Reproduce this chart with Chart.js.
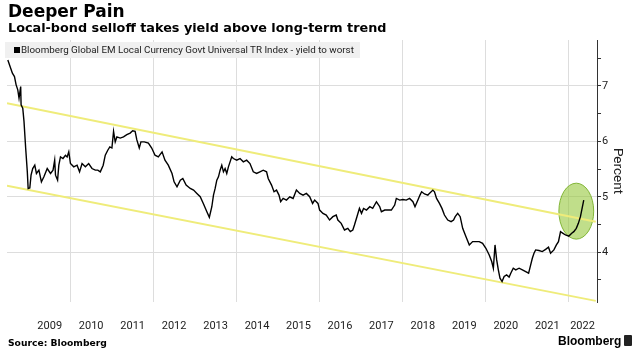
<!DOCTYPE html>
<html><head><meta charset="utf-8">
<script src="https://cdn.jsdelivr.net/npm/chart.js@4.4.1/dist/chart.umd.min.js"></script>
<style>
html,body{margin:0;padding:0;background:#fff;width:642px;height:357px;overflow:hidden;}
#wrap{position:relative;width:642px;height:357px;}
canvas{position:absolute;left:0;top:0;}
.t{position:absolute;white-space:nowrap;color:#000;}
#title{left:8px;top:1px;font:bold 17px/20px "DejaVu Sans";}
#sub{left:8px;top:20px;font:bold 12.8px/16px "DejaVu Sans";}
#legend{position:absolute;left:5px;top:42px;width:355px;height:16px;background:#f0f0f0;}
#legend .sq{position:absolute;left:9px;top:5px;width:6px;height:6px;background:#000;}
#legend .lt{position:absolute;left:16px;top:0;font:9.8px/16px Roboto;color:#222;white-space:nowrap;}
#source{left:8px;top:337px;font:bold 9.2px/12px "DejaVu Sans";}
#logo{left:558px;top:333px;font:bold 12px/16px "Liberation Sans";}
#icon{position:absolute;left:624px;top:335px;width:8px;height:11px;background:#222;border-radius:1px;}
</style></head>
<body>
<div id="wrap">
<canvas id="c" width="642" height="357"></canvas>
<div class="t" id="title">Deeper Pain</div>
<div class="t" id="sub">Local-bond selloff takes yield above long-term trend</div>
<div id="legend"><div class="sq"></div><div class="lt">Bloomberg Global EM Local Currency Govt Universal TR Index - yield to worst</div></div>
<div class="t" id="source">Source: Bloomberg</div>
<div class="t" id="logo">Bloomberg</div>
<div id="icon"></div>
</div>
<script>
const yieldDates = [
2008.49,2008.60,2008.65,2008.69,2008.73,2008.76,2008.80,2008.81,2008.85,2008.88,2008.92,2008.96,2008.98,
2009.02,2009.05,2009.09,2009.14,2009.18,2009.24,2009.30,2009.36,2009.44,2009.52,2009.58,2009.62,2009.64,2009.69,2009.72,2009.76,2009.82,2009.88,2009.92,2009.96,
2010.00,2010.08,2010.16,2010.22,2010.28,2010.36,2010.44,2010.52,2010.60,2010.66,2010.72,2010.79,2010.84,2010.90,2010.95,
2011.00,2011.04,2011.08,2011.12,2011.20,2011.28,2011.36,2011.44,2011.50,2011.56,2011.60,2011.66,2011.70,2011.78,2011.88,2011.96,
2012.04,2012.12,2012.21,2012.28,2012.36,2012.45,2012.50,2012.57,2012.65,2012.71,2012.79,2012.89,2012.97,
2013.05,2013.13,2013.21,2013.29,2013.35,2013.41,2013.45,2013.49,2013.53,2013.57,2013.61,2013.65,2013.69,2013.73,2013.77,2013.81,2013.85,2013.89,2013.93,
2014.01,2014.09,2014.17,2014.25,2014.33,2014.41,2014.49,2014.57,2014.65,2014.73,2014.77,2014.85,2014.91,2014.97,
2015.03,2015.07,2015.13,2015.21,2015.29,2015.37,2015.45,2015.53,2015.61,2015.69,2015.77,2015.84,2015.89,2015.97,
2016.01,2016.09,2016.17,2016.25,2016.33,2016.41,2016.45,2016.53,2016.61,2016.69,2016.75,2016.81,2016.85,2016.91,2016.97,
2017.02,2017.07,2017.14,2017.22,2017.29,2017.38,2017.46,2017.50,2017.58,2017.66,2017.74,2017.82,2017.86,2017.94,
2018.02,2018.10,2018.18,2018.26,2018.31,2018.38,2018.43,2018.47,2018.54,2018.62,2018.67,2018.74,2018.78,2018.83,2018.90,2018.96,
2019.02,2019.10,2019.18,2019.24,2019.28,2019.34,2019.40,2019.46,2019.54,2019.62,2019.70,2019.78,2019.86,2019.94,
2020.02,2020.10,2020.16,2020.20,2020.24,2020.28,2020.32,2020.36,2020.41,2020.46,2020.52,2020.58,2020.62,2020.68,2020.74,2020.82,2020.90,2020.98,
2021.05,2021.10,2021.14,2021.18,2021.22,2021.30,2021.38,2021.46,2021.53,2021.58,2021.66,2021.72,2021.77,2021.82,2021.88,2021.94,
2022.02,2022.09,2022.14,2022.20,2022.25,2022.30,2022.34,2022.38
];
const yieldValues = [
7.47,7.23,7.17,7.02,6.93,6.78,6.99,6.66,6.60,6.36,5.88,5.45,5.15,
5.16,5.39,5.51,5.57,5.42,5.48,5.27,5.36,5.51,5.42,5.48,5.66,5.39,5.30,5.57,5.72,5.69,5.75,5.72,5.81,
5.60,5.54,5.57,5.45,5.60,5.54,5.60,5.51,5.48,5.48,5.45,5.57,5.75,5.84,5.90,
5.88,6.18,5.99,6.08,6.06,6.08,6.12,6.15,6.19,6.18,6.03,5.88,5.99,5.99,5.97,5.88,
5.75,5.72,5.81,5.66,5.57,5.42,5.27,5.18,5.30,5.33,5.21,5.15,5.12,
5.06,5.00,4.87,4.73,4.63,4.82,5.03,5.15,5.30,5.36,5.48,5.57,5.45,5.51,5.42,5.54,5.63,5.72,5.69,
5.66,5.69,5.63,5.66,5.60,5.45,5.42,5.45,5.48,5.45,5.33,5.21,5.09,5.12,
5.03,4.91,4.97,4.94,5.00,4.97,5.12,5.06,5.03,5.06,5.00,4.88,4.94,4.88,
4.76,4.70,4.67,4.58,4.64,4.67,4.58,4.52,4.40,4.43,4.37,4.40,4.49,4.64,4.79,
4.70,4.79,4.76,4.82,4.79,4.91,4.82,4.73,4.76,4.76,4.76,4.85,4.97,4.94,
4.95,4.94,4.97,4.91,4.82,4.94,5.03,5.09,5.05,5.03,5.07,5.12,5.09,4.97,4.88,4.79,
4.67,4.58,4.55,4.58,4.64,4.70,4.64,4.43,4.28,4.13,4.19,4.19,4.19,4.16,
4.07,3.95,3.83,3.71,4.13,3.86,3.68,3.53,3.47,3.56,3.59,3.55,3.62,3.71,3.68,3.71,3.68,3.65,
3.62,3.77,3.89,3.98,4.04,4.03,4.01,4.05,4.09,3.98,4.04,4.13,4.19,4.37,4.34,4.31,
4.29,4.34,4.37,4.43,4.52,4.64,4.79,4.94
];
const upperTrendDates = [2008.47, 2022.67];
const upperTrendValues = [6.69, 4.55];
const lowerTrendDates = [2008.47, 2022.67];
const lowerTrendValues = [5.20, 3.12];
const yearTickLabels = ['2009','2010','2011','2012','2013','2014','2015','2016','2017','2018','2019','2020','2021','2022'];
const yearTickPositions = [2009.5,2010.5,2011.5,2012.5,2013.5,2014.5,2015.5,2016.5,2017.5,2018.5,2019.5,2020.5,2021.5,2022.35];
const yearGridPositions = [2010,2012,2014,2016,2018,2020,2022];
const yTickValues = [3.5,4,4.5,5,5.5,6,6.5,7,7.5];
const yTickLabelled = [4,5,6,7];
const xMin = 2008.47, xMax = 2022.70, yMin = 3.10, yMax = 7.83;
const highlight = {year: 2022.20, value: 4.74, yearRadius: 0.42, valueRadius: 0.505};

const toPoints = (xs, ys) => xs.map((x, i) => ({x: x, y: ys[i]}));

const decorPlugin = {
  id: 'decor',
  beforeDatasetsDraw(chart) {
    const {ctx, chartArea} = chart;
    const x = chart.scales.x, y = chart.scales.y;
    ctx.save();
    ctx.strokeStyle = '#dddddd';
    ctx.lineWidth = 1;
    yearGridPositions.forEach(v => {
      const px = Math.round(x.getPixelForValue(v)) + 0.5;
      ctx.beginPath();
      ctx.moveTo(px, chartArea.top);
      ctx.lineTo(px, chartArea.bottom);
      ctx.stroke();
    });
    const cx = x.getPixelForValue(highlight.year);
    const cy = y.getPixelForValue(highlight.value);
    const rx = Math.abs(x.getPixelForValue(highlight.year + highlight.yearRadius) - cx);
    const ry = Math.abs(y.getPixelForValue(highlight.value + highlight.valueRadius) - cy);
    ctx.beginPath();
    ctx.ellipse(cx, cy, rx, ry, 0, 0, Math.PI * 2);
    ctx.fillStyle = 'rgba(150,200,60,0.6)';
    ctx.fill();
    ctx.strokeStyle = 'rgba(120,175,40,0.9)';
    ctx.lineWidth = 1;
    ctx.stroke();
    ctx.restore();
  }
};

new Chart(document.getElementById('c'), {
  type: 'line',
  data: {
    datasets: [
      {data: toPoints(upperTrendDates, upperTrendValues), borderColor: '#efec7a', borderWidth: 2, pointRadius: 0, order: 3},
      {data: toPoints(lowerTrendDates, lowerTrendValues), borderColor: '#efec7a', borderWidth: 2, pointRadius: 0, order: 2},
      {data: toPoints(yieldDates, yieldValues), borderColor: '#000', borderWidth: 1.4, pointRadius: 0, tension: 0, order: 1}
    ]
  },
  options: {
    responsive: false,
    animation: false,
    events: [],
    layout: {padding: {top: 40, left: 7, right: 12.6, bottom: 5.8}},
    plugins: {legend: {display: false}, tooltip: {enabled: false}},
    scales: {
      x: {
        type: 'linear', position: 'bottom', min: xMin, max: xMax,
        afterBuildTicks: s => { s.ticks = yearTickPositions.map(v => ({value: v})); },
        ticks: {autoSkip: false, maxRotation: 0, padding: 18, font: {family: 'Roboto', size: 11}, color: '#222',
                callback: (v, i) => yearTickLabels[i]},
        grid: {display: false, drawTicks: false},
        border: {display: false}
      },
      y: {
        type: 'linear', position: 'right', min: yMin, max: yMax,
        afterBuildTicks: s => { s.ticks = yTickValues.map(v => ({value: v})); },
        ticks: {autoSkip: false, padding: 1, font: {family: 'Roboto', size: 11}, color: '#222',
                callback: v => yTickLabelled.includes(v) ? String(v) : ''},
        grid: {color: c => yTickLabelled.includes(c.tick && c.tick.value) ? '#dddddd' : 'rgba(0,0,0,0)',
               tickColor: '#333', tickLength: 4, drawTicks: true},
        border: {display: true, color: '#333'},
        title: {display: true, text: 'Percent', font: {family: 'Roboto', size: 13.5}, color: '#222', padding: {top: 4, bottom: 0}}
      }
    }
  },
  plugins: [decorPlugin]
});
</script>
</body></html>
